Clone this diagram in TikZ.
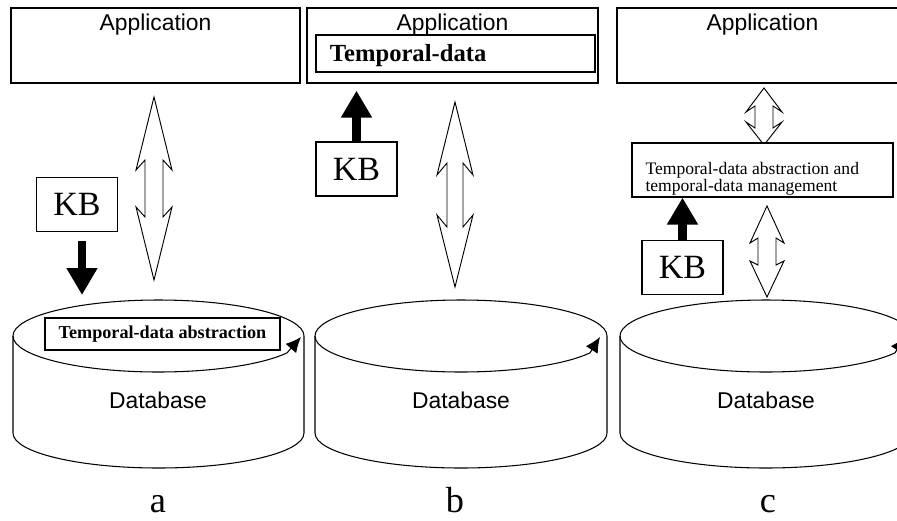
\documentclass[tikz,border=0pt]{standalone}
\usepackage{fontspec}
\setmainfont{Liberation Serif}
\newfontfamily\arialf{Liberation Sans}
\usetikzlibrary{arrows.meta}

\begin{document}
\begin{tikzpicture}[x=0.03cm,y=-0.03cm,line width=0.9pt,
  caja/.style={draw,line width=1pt,fill=white,inner sep=0pt},
  app/.style={caja,minimum width=8.73cm,minimum height=2.25cm},
  kb/.style={caja,minimum width=2.43cm,minimum height=1.62cm,font=\fontsize{29}{29}\selectfont},
  rot/.style={font=\arialf\fontsize{19.5}{21}\selectfont,inner sep=0pt},
  letra/.style={font=\fontsize{31}{31}\selectfont,anchor=base,inner sep=0pt},
  flecha/.style={line width=7pt,-{Triangle[length=23pt,width=25pt]}},
  punta/.style={-{Latex[length=13pt,width=12pt]}},
  hueca/.style={line width=0.8pt,fill=white,line join=miter}]
  \useasboundingbox (0,0) rectangle (897,520);
  % cilindros (base de datos)
  \draw (13,336) arc[start angle=180,end angle=360,x radius=145.5,y radius=36]
    -- (304,433) arc[start angle=0,end angle=180,x radius=145.5,y radius=35] -- cycle;
  \draw[punta] (13,336) arc[start angle=180,end angle=28,x radius=145.5,y radius=36] -- (301,337);
  \draw (315,336) arc[start angle=180,end angle=360,x radius=146,y radius=36]
    -- (607,433) arc[start angle=0,end angle=180,x radius=146,y radius=35] -- cycle;
  \draw[punta] (315,336) arc[start angle=180,end angle=28,x radius=146,y radius=36] -- (600,337);
  \draw (620,336) arc[start angle=180,end angle=360,x radius=146,y radius=36]
    -- (912,433) arc[start angle=0,end angle=180,x radius=146,y radius=35] -- cycle;
  \draw[punta] (620,336) arc[start angle=180,end angle=28,x radius=146,y radius=36] -- (905,337);
  \node[rot] (dbA) at (158,400) {Database};
  \node[rot] (dbB) at (461,400) {Database};
  \node[rot] (dbC) at (766,400) {Database};
  % caso a
  \node[app,minimum width=8.67cm] (appA) at (155.5,45.5) {};
  \node[rot,anchor=north] (appAt) at ([yshift=-5pt]appA.north) {Application};
  \draw[hueca] (154,97)--(172,170)--(163,160)--(163,217)--(172,207)--(154,280)
    --(136,207)--(145,217)--(145,160)--(136,170)--cycle;
  \node[kb] (kbA) at (77,204.5) {KB};
  \coordinate (dbAtop) at (82,295);
  \draw[flecha,shorten <=8pt] (kbA.south -| dbAtop) -- (dbAtop);
  \node[caja,minimum width=7.05cm,minimum height=0.96cm,font=\bfseries\fontsize{15.5}{15}\selectfont]
    (tdA) at (162.5,334) {Temporal-data abstraction};
  % caso b
  \node[app] (appB) at (452.5,45.5) {};
  \node[rot,anchor=north] (appBt) at ([yshift=-5pt]appB.north) {Application};
  \node[caja,minimum width=8.37cm,minimum height=1.11cm] (tdB) at (455.5,53.5) {};
  \node[inner sep=0pt,anchor=west,font=\bfseries\fontsize{21}{21}\selectfont]
    (tdBt) at ([xshift=12pt,yshift=-2pt]tdB.west) {Temporal-data};
  \node[kb] (kbB) at (356.5,169) {KB};
  \draw[flecha,shorten >=6pt] (kbB.north) -- (kbB.north |- appB.south);
  \draw[hueca] (455,102)--(473,175)--(463,163)--(463,227)--(473,215)--(455,287)
    --(437,215)--(447,227)--(447,163)--(437,175)--cycle;
  % caso c
  \node[app] (appC) at (762.5,45.5) {};
  \node[rot,anchor=north] (appCt) at ([yshift=-5pt]appC.north) {Application};
  \draw[hueca] (764,88)--(782,112)--(773,106)--(773,128)--(782,122)--(764,145)
    --(746,122)--(755,128)--(755,106)--(746,112)--cycle;
  \node[caja,minimum width=7.83cm,minimum height=1.62cm] (tdC) at (762.5,170) {};
  \node[inner sep=0pt,anchor=west,align=left,font=\fontsize{15}{15}\selectfont]
    (tdCt) at (645,179) {Temporal-data abstraction and\\temporal-data management};
  \node[kb] (kbC) at (682.5,267.5) {KB};
  \draw[flecha] (kbC.north) -- (kbC.north |- tdC.south);
  \draw[hueca] (767,206)--(784,243)--(776,238)--(776,265)--(784,261)--(767,297)
    --(750,261)--(758,265)--(758,238)--(750,243)--cycle;
  % letras
  \node[letra] (labA) at (158,512) {a};
  \node[letra] (labB) at (455,512) {b};
  \node[letra] (labC) at (768,512) {c};
\end{tikzpicture}
\end{document}
